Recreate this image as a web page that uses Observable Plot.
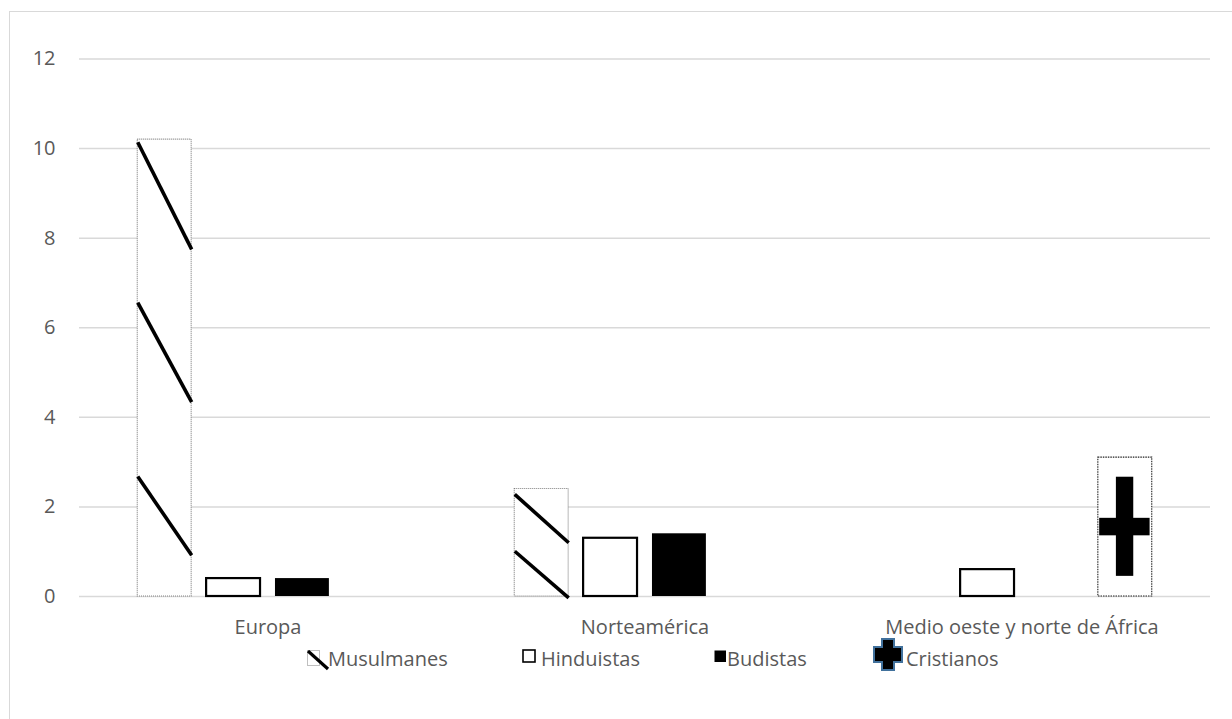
<!DOCTYPE html>
<html>
<head>
<meta charset="utf-8">
<script src="https://cdn.jsdelivr.net/npm/d3@7"></script>
<script src="https://cdn.jsdelivr.net/npm/@observablehq/plot@0.6"></script>
<style>
html, body { margin: 0; padding: 0; background: #fff; overflow: hidden; width: 1232px; height: 719px; }
#frame { position: absolute; left: 9px; top: 11px; width: 1250px; height: 730px; border: 1px solid #d9d9d9; box-sizing: border-box; }
#chart { position: absolute; left: 0; top: 0; }
#legend { position: absolute; left: 0; top: 645px; width: 1232px; height: 30px; font-family: "Open Sans", sans-serif; font-size: 20px; color: #595959; }
#legend .icon { position: absolute; line-height: 0; }
#legend .label { position: absolute; top: 0; line-height: 28px; white-space: nowrap; }
</style>
</head>
<body>
<div id="frame"></div>
<div id="chart"></div>
<div id="legend"></div>
<script>
// ---- data ----
const regions = ["Europa", "Norteamérica", "Medio oeste y norte de África"];
const series = ["Musulmanes", "Hinduistas", "Budistas", "Cristianos"];
const musulmanes = [10.2, 2.4, null];
const hinduistas = [0.4, 1.3, 0.6];
const budistas = [0.4, 1.4, null];
const cristianos = [null, null, 3.1];
const yTicks = [0, 2, 4, 6, 8, 10, 12];
// slash strokes of the Musulmanes picture fill (value units)
const slashRegion = ["Europa", "Europa", "Europa", "Norteamérica", "Norteamérica"];
const slashTop = [10.14, 6.56, 2.68, 2.28, 1.01];
const slashBottom = [7.75, 4.34, 0.92, 1.2, -0.03];

// ---- build tables ----
const valuesBySeries = [musulmanes, hinduistas, budistas, cristianos];
const rows = [];
series.forEach((s, i) => regions.forEach((r, j) => {
  const v = valuesBySeries[i][j];
  if (v != null) rows.push({region: r, series: s, idx: i, value: v});
}));
const musIdx = series.indexOf("Musulmanes");
const slashes = slashRegion.map((r, k) => ({region: r, idx: musIdx, top: slashTop[k], bottom: slashBottom[k]}));
const of = s => rows.filter(d => d.series === s);
const BW = 0.783; // bar width relative to slot step

const plot = Plot.plot({
  width: 1232,
  height: 660,
  marginLeft: 77.3,
  marginRight: 21.3,
  marginTop: 58.5,
  marginBottom: 64,
  style: {fontFamily: '"Open Sans", sans-serif', fontSize: "20px", color: "#595959", background: "transparent", overflow: "visible"},
  fx: {domain: regions, padding: 0, label: null, tickSize: 0, tickPadding: 23},
  x: {type: "linear", domain: [-0.846, 4.629], axis: null},
  y: {domain: [0, 12], ticks: yTicks, tickSize: 0, tickPadding: 24, label: null},
  marks: [
    Plot.ruleY(yTicks, {stroke: "#d9d9d9", strokeWidth: 1.5}),
    Plot.rect(of("Musulmanes"), {fx: "region", x1: "idx", x2: d => d.idx + BW, y1: () => 0, y2: "value",
      fill: "white", stroke: "#7f7f7f", strokeWidth: 1.1, strokeDasharray: "1,1"}),
    Plot.link(slashes, {fx: "region", x1: d => d.idx, x2: d => d.idx + BW, y1: "top", y2: "bottom",
      stroke: "black", strokeWidth: 3.6}),
    Plot.rect(of("Hinduistas"), {fx: "region", x1: "idx", x2: d => d.idx + BW, y1: () => 0, y2: "value",
      fill: "white", stroke: "black", strokeWidth: 2.2}),
    Plot.rect(of("Budistas"), {fx: "region", x1: "idx", x2: d => d.idx + BW, y1: () => 0, y2: "value",
      fill: "black"}),
    Plot.rect(of("Cristianos"), {fx: "region", x1: "idx", x2: d => d.idx + BW, y1: () => 0, y2: "value",
      fill: "white", stroke: "#222", strokeWidth: 1.1, strokeDasharray: "1.5,1"}),
    // cross picture inside the Cristianos bar
    Plot.rect(of("Cristianos"), {fx: "region", x1: d => d.idx + BW * 0.335, x2: d => d.idx + BW * 0.657,
      y1: d => d.value * 0.145, y2: d => d.value * 0.859, fill: "black"}),
    Plot.rect(of("Cristianos"), {fx: "region", x1: d => d.idx + BW * 0.025, x2: d => d.idx + BW * 0.96,
      y1: d => d.value * 0.437, y2: d => d.value * 0.563, fill: "black"})
  ]
});
document.getElementById("chart").appendChild(plot);

// ---- legend ----
const icons = {
  Musulmanes: {left: 306, top: 5, w: 24, h: 22,
    svg: '<rect x="1.5" y="0.5" width="12" height="15" fill="white" stroke="#7f7f7f" stroke-dasharray="1,1"/><line x1="2" y1="1" x2="22" y2="19" stroke="black" stroke-width="3.2"/>'},
  Hinduistas: {left: 522, top: 4, w: 15, h: 15,
    svg: '<rect x="1" y="1" width="12" height="12" fill="white" stroke="black" stroke-width="1.6"/>'},
  Budistas: {left: 714, top: 5, w: 13, h: 13,
    svg: '<rect x="0.5" y="0.5" width="11.5" height="11.5" fill="black"/>'},
  Cristianos: {left: 872, top: -7, w: 32, h: 34,
    svg: '<path d="M10 1 H22 V9 H30 V24 H22 V32 H10 V24 H2 V9 H10 Z" fill="black" stroke="#41719c" stroke-width="2"/>'}
};
const labelLeft = {Musulmanes: 328, Hinduistas: 541, Budistas: 727, Cristianos: 906};
const legend = document.getElementById("legend");
series.forEach(s => {
  const ic = icons[s];
  const span = document.createElement("span");
  span.className = "icon";
  span.style.left = ic.left + "px";
  span.style.top = ic.top + "px";
  span.innerHTML = `<svg width="${ic.w}" height="${ic.h}" viewBox="0 0 ${ic.w} ${ic.h}" style="display:block">${ic.svg}</svg>`;
  legend.appendChild(span);
  const lab = document.createElement("span");
  lab.className = "label";
  lab.style.left = labelLeft[s] + "px";
  lab.textContent = s;
  legend.appendChild(lab);
});
</script>
</body>
</html>
